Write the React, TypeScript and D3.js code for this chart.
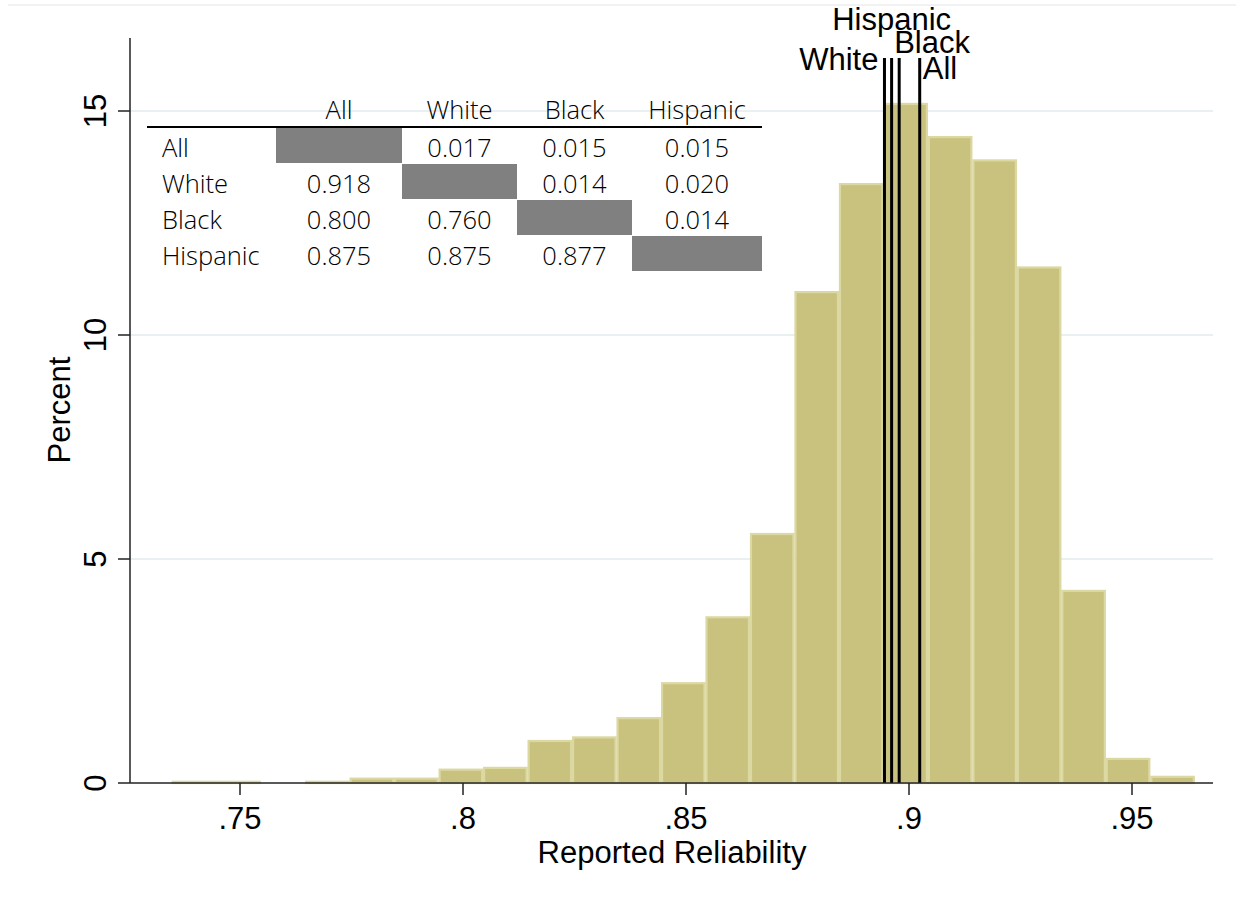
import React from "react";
import * as d3 from "d3";

// ---- data ----
const binStart = 0.7347;
const binWidth = 0.009973;
const binPercents = [0.05, 0.05, 0, 0.05, 0.12, 0.12, 0.32, 0.36, 0.96, 1.04, 1.47, 2.25, 3.72, 5.58, 10.98, 13.39, 15.18, 14.44, 13.92, 11.53, 4.31, 0.56, 0.16];

const xTicks = [0.75, 0.8, 0.85, 0.9, 0.95];
const xTickLabels = [".75", ".8", ".85", ".9", ".95"];
const yTicks = [0, 5, 10, 15];

const groupNames = ["White", "Hispanic", "Black", "All"];
const groupMeans = [0.8945, 0.8961, 0.8978, 0.9024];

const tableHeaders = ["All", "White", "Black", "Hispanic"];
const tableRows = ["All", "White", "Black", "Hispanic"];
const tableValues: (string | null)[][] = [
  [null, "0.017", "0.015", "0.015"],
  ["0.918", null, "0.014", "0.020"],
  ["0.800", "0.760", null, "0.014"],
  ["0.875", "0.875", "0.877", null],
];

const W = 1244;
const H = 901;

export default function App() {
  const x = d3.scaleLinear().domain([0.75, 0.95]).range([240, 1132]);
  const y = d3.scaleLinear().domain([0, 15]).range([783, 111]);
  const plotLeft = 130;
  const plotRight = 1213;
  const plotTop = 38;
  const axisFont = "Liberation Sans, Arial, sans-serif";
  const tableFont = "'Open Sans', sans-serif";
  const fs = 31;
  const tfs = 25.5;

  // label placement offsets per group line
  const labelSpec: Record<string, { dx: number; y: number; anchor: string }> = {
    White: { dx: -6, y: 70, anchor: "end" },
    Hispanic: { dx: 0, y: 30, anchor: "middle" },
    Black: { dx: -5, y: 53, anchor: "start" },
    All: { dx: 3, y: 79, anchor: "start" },
  };

  const colX = [276, 402, 517, 632, 762];
  const rowY0 = 128;
  const rowH = 36;

  return (
    <svg
      width={W}
      height={H}
      style={{ position: "absolute", left: 0, top: 0, background: "#fff" }}
    >
      <rect x={0} y={0} width={W} height={H} fill="#fff" />
      <line x1={8} x2={1236} y1={5} y2={5} stroke="#eeeeee" strokeWidth={1.5} />

      {/* gridlines */}
      {yTicks.filter((t) => t > 0).map((t) => (
        <line key={t} x1={plotLeft} x2={plotRight} y1={y(t)} y2={y(t)} stroke="#e8f0f2" strokeWidth={2} />
      ))}

      {/* bars */}
      {binPercents.map((p, i) => {
        if (p <= 0) return null;
        const x0 = x(binStart + i * binWidth);
        const x1 = x(binStart + (i + 1) * binWidth);
        return (
          <rect
            key={i}
            x={x0 + 1}
            y={y(p) + 1}
            width={x1 - x0 - 2}
            height={Math.max(0, y(0) - y(p) - 1)}
            fill="#c9c27e"
            stroke="#dcd8a2"
            strokeWidth={2.2}
          />
        );
      })}

      {/* group mean lines */}
      {groupNames.map((g, i) => {
        const lx = x(groupMeans[i]);
        const s = labelSpec[g];
        return (
          <g key={g}>
            <line x1={lx} x2={lx} y1={58} y2={y(0)} stroke="#000" strokeWidth={3} />
            <text x={lx + s.dx} y={s.y} textAnchor={s.anchor as any} fontFamily={axisFont} fontSize={fs} fill="#000">
              {g}
            </text>
          </g>
        );
      })}

      {/* axes */}
      <line x1={plotLeft} x2={plotLeft} y1={plotTop} y2={y(0)} stroke="#222" strokeWidth={1.5} />
      <line x1={plotLeft} x2={plotRight} y1={y(0)} y2={y(0)} stroke="#222" strokeWidth={1.5} />

      {xTicks.map((t, i) => (
        <g key={t}>
          <line x1={x(t)} x2={x(t)} y1={y(0)} y2={y(0) + 12} stroke="#222" strokeWidth={1.5} />
          <text x={x(t)} y={829} textAnchor="middle" fontFamily={axisFont} fontSize={fs} fill="#000">
            {xTickLabels[i]}
          </text>
        </g>
      ))}
      {yTicks.map((t) => (
        <g key={t}>
          <line x1={plotLeft - 12} x2={plotLeft} y1={y(t)} y2={y(t)} stroke="#222" strokeWidth={1.5} />
          <text
            transform={`translate(106, ${y(t)}) rotate(-90)`}
            textAnchor="middle"
            fontFamily={axisFont}
            fontSize={fs}
            fill="#000"
          >
            {t}
          </text>
        </g>
      ))}

      <text x={672} y={863} textAnchor="middle" fontFamily={axisFont} fontSize={fs} fill="#000">
        Reported Reliability
      </text>
      <text transform="translate(70, 410) rotate(-90)" textAnchor="middle" fontFamily={axisFont} fontSize={fs} fill="#000">
        Percent
      </text>

      {/* table */}
      <line x1={147} x2={762} y1={127} y2={127} stroke="#000" strokeWidth={2} />
      {tableHeaders.map((h, j) => (
        <text
          key={h}
          x={(colX[j] + colX[j + 1]) / 2}
          y={119}
          textAnchor="middle"
          fontFamily={tableFont}
          fontWeight={300}
          fontSize={tfs}
          fill="#000"
        >
          {h}
        </text>
      ))}
      {tableRows.map((r, i) => (
        <g key={r}>
          <text x={162} y={rowY0 + i * rowH + 29} fontFamily={tableFont} fontWeight={300} fontSize={tfs} fill="#000">
            {r}
          </text>
          {tableValues[i].map((v, j) =>
            v === null ? (
              <rect key={j} x={colX[j]} y={rowY0 + i * rowH} width={colX[j + 1] - colX[j]} height={rowH - 1} fill="#808080" />
            ) : (
              <text
                key={j}
                x={(colX[j] + colX[j + 1]) / 2}
                y={rowY0 + i * rowH + 29}
                textAnchor="middle"
                fontFamily={tableFont}
                fontWeight={300}
                fontSize={tfs}
                fill="#000"
              >
                {v}
              </text>
            )
          )}
        </g>
      ))}
    </svg>
  );
}
